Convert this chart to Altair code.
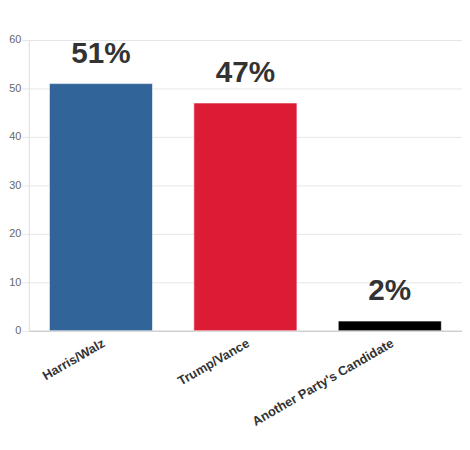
import altair as alt
import pandas as pd

candidates = ["Harris/Walz", "Trump/Vance", "Another Party's Candidate"]
values = [51, 47, 2]
labels = ["51%", "47%", "2%"]
colors = ["#31659a", "#dc1b35", "#000000"]

df = pd.DataFrame({"candidate": candidates, "value": values, "label": labels, "color": colors})

FONT = "Liberation Sans"

x = alt.X("candidate:N", sort=candidates, title=None,
          scale=alt.Scale(paddingInner=0.286, paddingOuter=0.143),
          axis=alt.Axis(labelAngle=-30, labelAlign="right", labelBaseline="top",
                        labelFontWeight="bold", labelFontSize=13, labelColor="#333333",
                        labelFont=FONT, ticks=False, labelPadding=6,
                        domainColor="#c8c8c8", grid=False))
y = alt.Y("value:Q", title=None,
          scale=alt.Scale(domain=[0, 60], nice=False),
          axis=alt.Axis(values=[0, 10, 20, 30, 40, 50, 60], labelFontSize=11,
                        labelColor="#666666", labelFont=FONT, tickSize=7,
                        tickColor="#e6e6e6", gridColor="#e6e6e6", domain=False,
                        labelPadding=1))

bars = alt.Chart(df).mark_bar(stroke="#ffffff", strokeOpacity=0.6, strokeWidth=1).encode(
    x=x, y=y, color=alt.Color("color:N", scale=None))

text = alt.Chart(df).mark_text(baseline="bottom", dy=-15, fontSize=30, fontWeight="bold",
                               color="#333333", font=FONT).encode(
    x=alt.X("candidate:N", sort=candidates), y="value:Q", text="label:N")

chart = alt.layer(bars, text).properties(
    width=438, height=294, padding={"top": 24, "left": 0, "right": 0, "bottom": 0}
).configure_view(stroke=None).configure(background="white")

chart.save("out.html", embed_options={"renderer": "svg", "actions": False})
